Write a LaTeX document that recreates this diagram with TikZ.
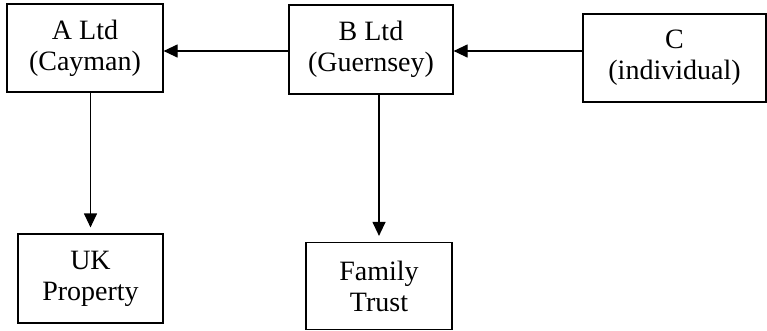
\documentclass[tikz,border=0pt]{standalone}
\usepackage{fontspec}
\setmainfont{Liberation Serif}
\usetikzlibrary{arrows.meta}
\begin{document}
\begin{tikzpicture}[x=1pt,y=-1pt,
  box/.style={draw,line width=1.2pt,rectangle,inner sep=0pt,align=center,
    font=\fontsize{28}{31}\selectfont},
  arr/.style={line width=1.2pt,-{Triangle[length=14pt,width=13pt]}}]
\useasboundingbox (0,0) rectangle (767,330);
\node[box,minimum width=156pt,minimum height=88pt] (A) at (85,48) {A Ltd\\(Cayman)};
\node[box,minimum width=164pt,minimum height=89pt] (B) at (371,49.5) {B Ltd\\(Guernsey)};
\node[box,minimum width=183pt,minimum height=88pt] (C) at (674.5,58) {C\\(individual)};
\node[box,minimum width=145pt,minimum height=89pt] (UK) at (90.5,278.5) {UK\\Property};
\node[box,minimum width=146pt,minimum height=87pt] (FT) at (379,286) {Family\\Trust};
\coordinate (m) at (0,51);
\draw[arr] (B.west |- m) -- (A.east |- m);
\draw[arr] (C.west |- m) -- (B.east |- m);
\draw[arr,shorten >=6pt] (A.south -| UK.north) -- (UK.north);
\draw[arr,shorten >=6pt] (B.south -| FT.north) -- (FT.north);
\end{tikzpicture}
\end{document}
